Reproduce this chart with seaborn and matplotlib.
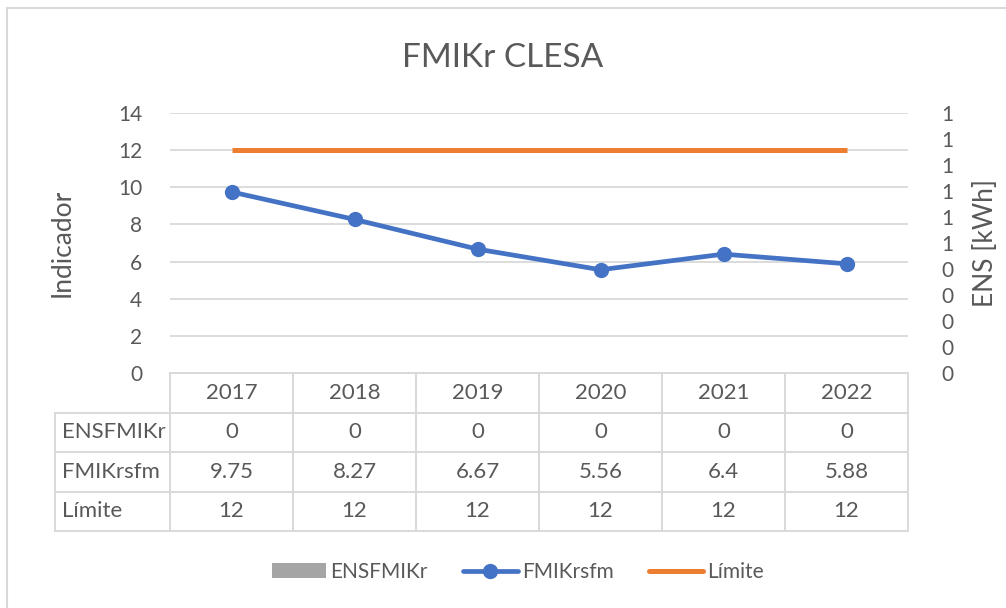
import numpy as np
import pandas as pd
import matplotlib.pyplot as plt
import seaborn as sns
from matplotlib.lines import Line2D
from matplotlib.patches import Patch, Rectangle
from matplotlib.table import Table

# Chart data
years = ["2017", "2018", "2019", "2020", "2021", "2022"]
ens_fmikr = [0, 0, 0, 0, 0, 0]
fmikr_sfm = [9.75, 8.27, 6.67, 5.56, 6.4, 5.88]
limite = [12, 12, 12, 12, 12, 12]
table_fmikr_text = ["9.75", "8.27", "6.67", "5.56", "6.4", "5.88"]
series_names = ["ENSFMIKr", "FMIKrsfm", "Límite"]

left_ticks = [0, 2, 4, 6, 8, 10, 12, 14]
right_ticks = [0, 0.1, 0.2, 0.3, 0.4, 0.5, 0.6, 0.7, 0.8, 0.9, 1.0]
right_tick_labels = ["0", "0", "0", "0", "0", "1", "1", "1", "1", "1", "1"]

BLUE = "#4472C4"
ORANGE = "#ED7D31"
GREY = "#A5A5A5"
TEXT = "#595959"
GRID = "#D9D9D9"

sns.set_theme(style="white")
plt.rcParams['font.family'] = ['Lato', 'DejaVu Sans']
plt.rcParams['text.color'] = TEXT

df = pd.DataFrame({
    "year": years,
    "pos": np.arange(len(years)),
    "ENSFMIKr": ens_fmikr,
    "FMIKrsfm": fmikr_sfm,
    "Límite": limite,
})

W, H = 1006, 608
fig = plt.figure(figsize=(W / 100, H / 100), dpi=100)
ax = fig.add_axes([170 / W, 1 - 373 / H, (908 - 170) / W, (373 - 113) / H])
ax2 = ax.twinx()

# Secondary axis: ENS bars (all zero)
sns.barplot(data=df, x="pos", y="ENSFMIKr", ax=ax2, color=GREY, width=0.5,
            native_scale=True)

# Primary axis: lines
sns.lineplot(data=df, x="pos", y="Límite", ax=ax, color=ORANGE, linewidth=3.6,
             solid_capstyle="butt")
sns.lineplot(data=df, x="pos", y="FMIKrsfm", ax=ax, color=BLUE, linewidth=3.4,
             marker="o", markersize=11, markeredgewidth=0)

ax.set_zorder(ax2.get_zorder() + 1)
ax.patch.set_visible(False)

ax.set_xlim(-0.5, len(years) - 0.5)
ax.set_ylim(0, 14)
ax.set_yticks(left_ticks)
ax.set_yticklabels([str(t) for t in left_ticks])
ax.grid(axis="y", color=GRID, linewidth=1.3)
ax.set_axisbelow(True)
ax.tick_params(axis="y", length=0, pad=20, labelsize=15, labelcolor=TEXT)
ax.tick_params(axis="x", length=0, labelbottom=False)
ax.set_xlabel("")
ax.set_ylabel("Indicador", fontsize=19, color=TEXT, labelpad=31)

ax2.set_ylim(0, 1)
ax2.set_yticks(right_ticks)
ax2.set_yticklabels(right_tick_labels)
ax2.tick_params(axis="y", length=0, pad=24, labelsize=15, labelcolor=TEXT)
ax2.set_ylabel("ENS [kWh]", fontsize=19, color=TEXT, labelpad=14)
ax2.set_xlabel("")

for a in (ax, ax2):
    for s in a.spines.values():
        s.set_visible(False)

# Data table under the plot
label_w = (115 / 123) / 6
col_w = 1 / 6
row_h = 1 / 4
tbl = Table(ax, bbox=[-115 / 738, -(532 - 374) / 260, 1 + 115 / 738, (532 - 374) / 260])
corner = tbl.add_cell(0, 0, width=label_w, height=row_h, text="")
corner.visible_edges = "open"
for c, year in enumerate(years):
    tbl.add_cell(0, c + 1, width=col_w, height=row_h, text=year, loc="center")
rows = [[str(v) for v in ens_fmikr], table_fmikr_text, [str(v) for v in limite]]
for r, (name, vals) in enumerate(zip(series_names, rows)):
    lab = tbl.add_cell(r + 1, 0, width=label_w, height=row_h, text=name, loc="left")
    lab.PAD = 0.06
    for c, v in enumerate(vals):
        tbl.add_cell(r + 1, c + 1, width=col_w, height=row_h, text=v, loc="center")
tbl.auto_set_font_size(False)
tbl.set_fontsize(16)
for (r, c), cell in tbl.get_celld().items():
    cell.set_edgecolor(GRID)
    cell.set_linewidth(1.4)
    cell.set_facecolor("none")
    cell.get_text().set_color(TEXT)
ax.add_table(tbl)

# Legend
handles = [
    Patch(facecolor=GREY, edgecolor="none"),
    Line2D([], [], color=BLUE, linewidth=3.4, marker="o", markersize=11, markeredgewidth=0),
    Line2D([], [], color=ORANGE, linewidth=3.6),
]
fig.legend(handles, series_names, loc="center",
           bbox_to_anchor=(518 / W, 1 - 572 / H), ncol=3, frameon=False,
           fontsize=15, handlelength=2.6, handletextpad=0.2, columnspacing=1.7,
           labelcolor=TEXT)

fig.suptitle("FMIKr CLESA", y=1 - 58 / H, va="center", fontsize=24, color=TEXT)

# Chart area border
fig.patches.append(Rectangle((7 / W, -0.02), 1.02, 1 - 8 / H + 0.02,
                             transform=fig.transFigure, fill=False,
                             edgecolor=GRID, linewidth=1.5))

fig.savefig("out.png", dpi=100)
